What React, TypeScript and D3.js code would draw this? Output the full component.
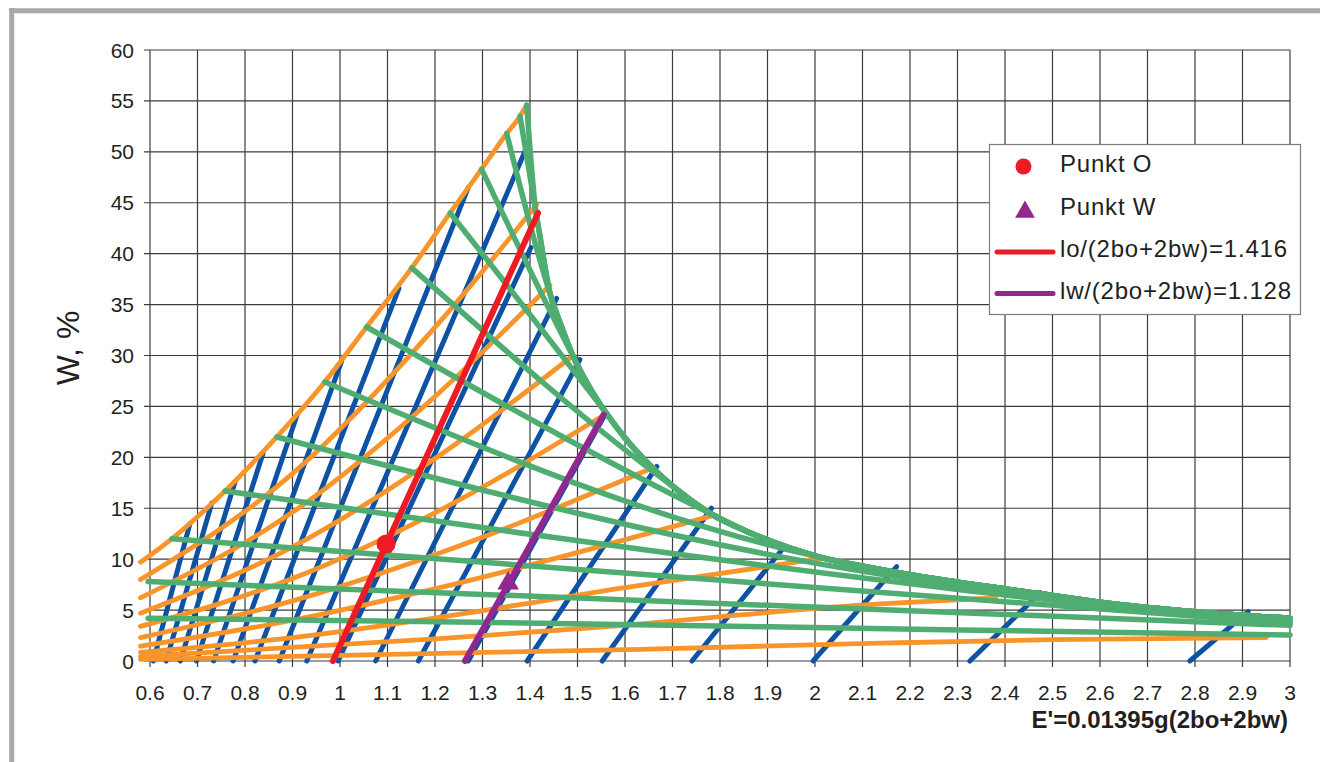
import React from "react";
import * as d3 from "d3";

const WIDTH = 1320;
const HEIGHT = 762;
const FONT = "'Liberation Sans', Arial, sans-serif";

// axis ticks
const xTickValues = [0.6, 0.7, 0.8, 0.9, 1, 1.1, 1.2, 1.3, 1.4, 1.5, 1.6, 1.7, 1.8, 1.9, 2, 2.1, 2.2, 2.3, 2.4, 2.5, 2.6, 2.7, 2.8, 2.9, 3];
const xTickLabels = ["0.6", "0.7", "0.8", "0.9", "1", "1.1", "1.2", "1.3", "1.4", "1.5", "1.6", "1.7", "1.8", "1.9", "2", "2.1", "2.2", "2.3", "2.4", "2.5", "2.6", "2.7", "2.8", "2.9", "3"];
const yTickValues = [0, 5, 10, 15, 20, 25, 30, 35, 40, 45, 50, 55, 60];

// blue family (constant l/(2bo+2bw)) : bottom on W=0, top on envelope
const blueBottomX = [0.607, 0.634, 0.664, 0.698, 0.734, 0.775, 0.821, 0.872, 0.93, 0.996, 1.075, 1.165, 1.27, 1.394, 1.552, 1.741, 1.996, 2.326, 2.789];
const blueTopX = [0.684, 0.73, 0.779, 0.838, 0.91, 1.003, 1.124, 1.27, 1.389, 1.402, 1.456, 1.505, 1.558, 1.667, 1.782, 1.933, 2.172, 2.474, 2.912];
const blueTopY = [13.5, 15.5, 17.6, 20.4, 24.2, 29.4, 36.6, 46.5, 50.0, 40.6, 35.6, 29.6, 24.2, 19.1, 15.0, 11.07, 9.26, 6.7, 4.85];

// orange family
const orangeLines: [number, number][][] = [
  [[0.58, 9.7], [0.646, 12.0], [0.758, 16.7], [0.867, 22.0], [0.968, 27.4], [1.056, 32.8], [1.151, 38.6], [1.232, 44.0], [1.298, 48.3], [1.351, 51.8], [1.379, 53.5], [1.393, 54.6]],
  [[0.58, 8.0], [0.9, 18.4], [1.21, 33.3], [1.414, 44.8]],
  [[0.58, 6.2], [0.9, 14.6], [1.21, 26.4], [1.442, 36.9]],
  [[0.58, 4.7], [0.9, 11.2], [1.21, 20.2], [1.491, 30.0]],
  [[0.58, 3.4], [0.9, 8.1], [1.21, 14.8], [1.561, 24.3]],
  [[0.58, 2.3], [0.9, 5.9], [1.21, 10.6], [1.66, 19.0]],
  [[0.58, 1.45], [0.9, 4.0], [1.21, 7.2], [1.779, 14.2]],
  [[0.58, 0.85], [0.9, 2.3], [1.21, 4.3], [1.6, 7.2], [2.017, 10.1]],
  [[0.58, 0.45], [1.21, 2.2], [1.512, 3.2], [2.137, 5.6], [2.38, 6.2]],
  [[0.58, 0.15], [1.21, 0.75], [1.632, 1.15], [2.137, 1.75], [2.5, 2.1], [2.95, 2.3]],
];

// green envelope (right boundary)
const envelopeX = [1.393, 1.398, 1.404, 1.411, 1.421, 1.442, 1.465, 1.491, 1.525, 1.561, 1.6, 1.638, 1.702, 1.779, 1.863, 2.01, 2.137, 2.263, 2.474, 2.628, 2.838, 3.0];
const envelopeY = [54.6, 51.5, 48.0, 44.6, 41.7, 36.1, 33.0, 29.9, 26.9, 24.3, 21.9, 19.9, 17.1, 14.5, 12.6, 10.2, 9.0, 8.0, 6.6, 5.6, 4.7, 4.2];

// green lines that start on the top orange curve and merge into the envelope
const greenStartX = [1.379, 1.351, 1.298, 1.232, 1.151, 1.056, 0.968];
const greenStartY = [53.5, 51.8, 48.3, 44.0, 38.6, 32.8, 27.4];
const greenJoinX = [1.421, 1.442, 1.491, 1.561, 1.702, 1.779, 2.01];

// lower green lines
const greenLowLines: [number, number][][] = [
  [[0.867, 22.0], [2.137, 8.55], [2.474, 6.4], [3.0, 4.0]],
  [[0.758, 16.7], [2.137, 7.95], [2.474, 6.1], [3.0, 3.86]],
  [[0.646, 12.0], [3.0, 3.7]],
  [[0.596, 7.8], [3.0, 3.5]],
  [[0.596, 4.2], [1.21, 3.86], [2.305, 3.05], [3.0, 2.55]],
];

// highlighted lines and points
const redX = [0.985, 1.417];
const redY = [0, 44.0];
const purpleX = [1.263, 1.555];
const purpleY = [0, 24.2];
const pointO: [number, number] = [1.097, 11.5];
const pointW: [number, number] = [1.354, 7.63];
const legendLabels = ["Punkt O", "Punkt W", "lo/(2bo+2bw)=1.416", "lw/(2bo+2bw)=1.128"];

const COL_BLUE = "#0d52a4";
const COL_ORANGE = "#f7952b";
const COL_GREEN = "#4fad72";
const COL_RED = "#ed1c24";
const COL_PURPLE = "#92278f";
const COL_GRID = "#3c3c3c";

export default function App() {
  const x = d3.scaleLinear().domain([0.6, 3]).range([150, 1290]);
  const y = d3.scaleLinear().domain([0, 60]).range([661, 50]);

  const smooth = d3
    .line<[number, number]>()
    .x((d) => x(d[0]))
    .y((d) => y(d[1]))
    .curve(d3.curveMonotoneX);
  const straight = d3
    .line<[number, number]>()
    .x((d) => x(d[0]))
    .y((d) => y(d[1]));

  const envelope: [number, number][] = envelopeX.map((v, i) => [v, envelopeY[i]]);
  const greenPaths: [number, number][][] = [envelope];
  greenStartX.forEach((sx, i) => {
    const tail = envelope.filter((p) => p[0] >= greenJoinX[i] - 1e-9);
    greenPaths.push([[sx, greenStartY[i]], ...tail]);
  });
  greenLowLines.forEach((l) => greenPaths.push(l));

  const triPath = d3.symbol().type(d3.symbolTriangle).size(200)() || "";
  const triLegend = d3.symbol().type(d3.symbolTriangle).size(170)() || "";

  return (
    <svg
      width={WIDTH}
      height={HEIGHT}
      style={{ position: "absolute", left: 0, top: 0, background: "#fff" }}
      fontFamily={FONT}
    >
      <rect x={0} y={0} width={WIDTH} height={HEIGHT} fill="#fff" />
      {/* outer frame */}
      <line x1={11.7} y1={8} x2={11.7} y2={HEIGHT} stroke="#a8a9ad" strokeWidth={5} />
      <line x1={9} y1={10.7} x2={WIDTH} y2={10.7} stroke="#a8a9ad" strokeWidth={5} />

      {/* grid */}
      {xTickValues.map((v, i) => (
        <line key={"gx" + i} x1={x(v)} x2={x(v)} y1={y(60)} y2={y(0) + 6} stroke={COL_GRID} strokeWidth={1.2} />
      ))}
      {yTickValues.map((v, i) => (
        <line key={"gy" + i} x1={x(0.6) - 6} x2={x(3)} y1={y(v)} y2={y(v)} stroke={COL_GRID} strokeWidth={1.2} />
      ))}

      {/* blue lines */}
      {blueBottomX.map((bx, i) => (
        <path
          key={"b" + i}
          d={straight([[bx, 0], [blueTopX[i], blueTopY[i]]]) || ""}
          fill="none"
          stroke={COL_BLUE}
          strokeWidth={5}
          strokeLinecap="round"
        />
      ))}

      {/* orange lines */}
      {orangeLines.map((l, i) => (
        <path key={"o" + i} d={smooth(l) || ""} fill="none" stroke={COL_ORANGE} strokeWidth={4.8} strokeLinecap="round" />
      ))}

      {/* green lines */}
      {greenPaths.map((l, i) => (
        <path key={"g" + i} d={smooth(l) || ""} fill="none" stroke={COL_GREEN} strokeWidth={5.5} strokeLinecap="round" strokeLinejoin="round" />
      ))}

      {/* red and purple lines */}
      <path
        d={straight(redX.map((v, i) => [v, redY[i]] as [number, number])) || ""}
        fill="none"
        stroke={COL_RED}
        strokeWidth={6}
        strokeLinecap="round"
      />
      <path
        d={straight(purpleX.map((v, i) => [v, purpleY[i]] as [number, number])) || ""}
        fill="none"
        stroke={COL_PURPLE}
        strokeWidth={6}
        strokeLinecap="round"
      />
      <circle cx={x(pointO[0])} cy={y(pointO[1])} r={9.5} fill={COL_RED} />
      <path d={triPath} transform={`translate(${x(pointW[0])},${y(pointW[1])})`} fill={COL_PURPLE} />

      {/* tick labels */}
      {yTickValues.map((v, i) => (
        <text key={"ty" + i} x={134} y={y(v) + 7.5} textAnchor="end" fontSize={21} fill="#231f20">
          {v}
        </text>
      ))}
      {xTickValues.map((v, i) => (
        <text key={"tx" + i} x={x(v)} y={700} textAnchor="middle" fontSize={21} fill="#231f20">
          {xTickLabels[i]}
        </text>
      ))}

      {/* axis titles */}
      <text transform="translate(79,348) rotate(-90)" textAnchor="middle" fontSize={32} fill="#231f20">
        W, %
      </text>
      <text x={1288} y={728} textAnchor="end" fontSize={24} fontWeight="bold" fill="#231f20">
        E'=0.01395g(2bo+2bw)
      </text>

      {/* legend */}
      <rect x={989.5} y={144.5} width={311} height={170} fill="#fff" stroke="#7d7d7d" strokeWidth={1.2} />
      <circle cx={1023.5} cy={166.5} r={8} fill={COL_RED} />
      <path d={triLegend} transform="translate(1025,212)" fill={COL_PURPLE} />
      <line x1={997} x2={1053} y1={252} y2={252} stroke={COL_RED} strokeWidth={5} strokeLinecap="round" />
      <line x1={997} x2={1053} y1={293.5} y2={293.5} stroke={COL_PURPLE} strokeWidth={5} strokeLinecap="round" />
      {legendLabels.map((t, i) => (
        <text key={"lg" + i} x={1060} y={[172, 215, 257, 298.5][i]} fontSize={24} letterSpacing={0.8} fill="#231f20">
          {t}
        </text>
      ))}
    </svg>
  );
}
